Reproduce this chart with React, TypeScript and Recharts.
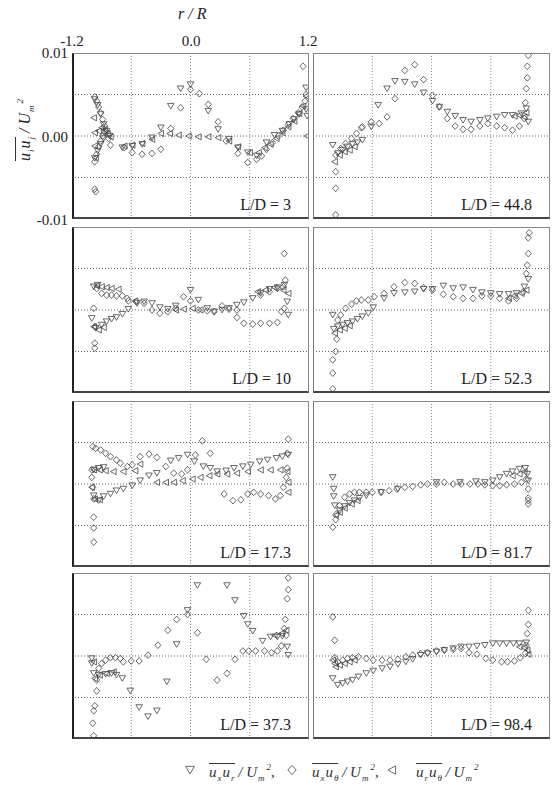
import React from 'react';
import { ScatterChart, Scatter, XAxis, YAxis, ReferenceLine } from 'recharts';

type Pt = [number, number];

// ---- L/D = 3 ----
const ld3Xr: Pt[] = [
  [-0.97, 0.0044], [-0.94, 0.0037], [-0.91, 0.0026], [-0.88, 0.0014], [-0.85, 0.0006], [-0.82, 0.0],
  [-0.97, -0.0027], [-0.94, -0.0018], [-0.91, -0.001], [-0.88, -0.0003],
  [-0.69, -0.0014], [-0.59, -0.0012], [-0.49, -0.001], [-0.39, -0.0002], [-0.3, 0.001], [-0.2, 0.0036],
  [-0.1, 0.0057], [0.0, 0.0062], [0.18, 0.003], [0.28, 0.0008], [0.39, -0.0004], [0.48, -0.0014],
  [0.58, -0.002], [0.67, -0.0024], [0.77, -0.0008], [0.85, 0.0001], [0.93, 0.0006], [1.0, 0.0014],
  [1.05, 0.002], [1.1, 0.0026], [1.17, 0.0032], [1.17, 0.0058], [1.18, 0.0024],
];
const ld3Xt: Pt[] = [
  [-0.97, 0.0047], [-0.95, 0.0042], [-0.93, 0.0035], [-0.91, 0.0028], [-0.89, 0.002], [-0.87, 0.0012],
  [-0.85, 0.0005], [-0.83, -0.0003], [-0.81, -0.0011],
  [-0.97, -0.0031], [-0.95, -0.0022], [-0.93, -0.0013], [-0.91, -0.0006], [-0.89, 0.0], [-0.87, 0.0005],
  [-0.97, -0.0064], [-0.96, -0.0067],
  [-0.67, -0.0014], [-0.59, -0.002], [-0.49, -0.0022], [-0.39, -0.0021], [-0.3, -0.0016], [-0.2, 0.0009],
  [-0.1, 0.0034], [0.0, 0.0056], [0.09, 0.0051], [0.18, 0.0038], [0.28, 0.0017], [0.36, -0.0006],
  [0.48, -0.0021], [0.58, -0.0032], [0.67, -0.0028], [0.72, -0.0024], [0.77, -0.0016], [0.83, -0.0008],
  [0.89, 0.0], [0.94, 0.0007], [0.99, 0.0014], [1.04, 0.0021], [1.09, 0.0028], [1.13, 0.0035],
  [1.16, 0.0042], [1.17, 0.005], [1.14, 0.0084],
];
const ld3Rt: Pt[] = [
  [-0.98, 0.0022], [-0.97, 0.0004], [-0.97, -0.0012], [-0.96, -0.0026], [-0.93, 0.0006], [-0.9, 0.001],
  [-0.87, 0.0008], [-0.84, 0.0003], [-0.81, -0.0001],
  [-0.67, -0.0012], [-0.59, -0.0011], [-0.49, -0.0009], [-0.39, -0.0004], [-0.3, 0.0003], [-0.21, 0.0003],
  [-0.12, 0.0001], [-0.02, 0.0], [0.08, -0.0001], [0.18, -0.0001], [0.28, -0.0002], [0.39, -0.0006],
  [0.48, -0.0013], [0.6, -0.002], [0.69, -0.002], [0.75, -0.0014], [0.81, -0.001], [0.87, -0.0003],
  [0.93, 0.0004], [0.99, 0.0011], [1.05, 0.0018], [1.1, 0.0027], [1.14, 0.0036], [1.17, 0.0048],
  [1.18, 0.0],
];

// ---- L/D = 44.8 ----
const ld44Xr: Pt[] = [
  [-1.0, -0.0011], [-0.95, -0.0021], [-0.9, -0.0017], [-0.85, -0.0013], [-0.8, -0.001], [-0.75, -0.0008],
  [-0.7, -0.0005], [-0.61, 0.0011], [-0.54, 0.0037], [-0.45, 0.0057], [-0.37, 0.0066], [-0.27, 0.0065],
  [-0.17, 0.0062], [-0.08, 0.0052], [0.01, 0.0042], [0.08, 0.0035], [0.16, 0.0029], [0.24, 0.0024],
  [0.32, 0.0019], [0.4, 0.0017], [0.49, 0.0019], [0.57, 0.0021], [0.66, 0.0023], [0.74, 0.0025],
  [0.82, 0.0025], [0.91, 0.0027], [0.96, 0.0033], [0.98, 0.0017],
];
const ld44Xt: Pt[] = [
  [-0.97, -0.0095], [-0.97, -0.0063], [-0.97, -0.0043], [-0.97, -0.0023], [-0.92, -0.0015],
  [-0.87, -0.0009], [-0.81, -0.0003], [-0.76, 0.0003], [-0.71, 0.001], [-0.7, 0.0011], [-0.61, 0.0017],
  [-0.53, 0.0015], [-0.45, 0.0023], [-0.37, 0.0045], [-0.27, 0.0079], [-0.17, 0.0086], [-0.08, 0.0068],
  [0.01, 0.0049], [0.08, 0.0035], [0.16, 0.0021], [0.24, 0.0012], [0.32, 0.0008], [0.4, 0.0008],
  [0.49, 0.0012], [0.57, 0.0015], [0.66, 0.0012], [0.74, 0.001], [0.82, 0.0007], [0.89, 0.0012],
  [0.94, 0.0021], [0.95, 0.004], [0.96, 0.0057], [0.97, 0.007], [0.97, 0.0084], [0.98, 0.0097],
];
const ld44Rt: Pt[] = [
  [-0.98, -0.0031], [-0.93, -0.0023], [-0.88, -0.0019], [-0.83, -0.0017], [-0.78, -0.0013],
  [0.84, 0.0024], [0.89, 0.0025], [0.94, 0.0023], [0.96, 0.0028],
];

// ---- L/D = 10 ----
const ld10Xr: Pt[] = [
  [-0.98, 0.0028], [-0.94, 0.003],
  [-1.0, -0.001], [-0.96, -0.0022], [-0.9, -0.0018], [-0.85, -0.0014], [-0.8, -0.0011], [-0.75, -0.0009],
  [-0.69, -0.0005], [-0.63, 0.0001], [-0.54, 0.0008], [-0.47, 0.001], [-0.39, 0.0008], [-0.31, 0.0003],
  [-0.23, 0.0001], [-0.15, 0.0005], [0.0, 0.0024], [0.08, 0.0012], [0.17, 0.0002], [0.24, -0.0002],
  [0.32, 0.0], [0.39, 0.0002], [0.47, 0.0006], [0.54, 0.0009], [0.63, 0.0014], [0.71, 0.002],
  [0.8, 0.0025], [0.88, 0.0027], [0.95, 0.003], [0.98, 0.001], [0.99, -0.0006],
];
const ld10Xt: Pt[] = [
  [-0.95, 0.0026], [-0.9, 0.002], [-0.85, 0.0018], [-0.8, 0.0018], [-0.75, 0.0017], [-0.69, 0.0017],
  [-0.64, 0.0014], [-0.63, 0.0011], [-0.55, 0.001], [-0.47, 0.0008], [-0.39, 0.0], [-0.31, -0.0004],
  [-0.23, -0.0002], [-0.15, 0.0002], [-0.07, 0.0016], [0.0, 0.0011],
  [-0.98, 0.0002], [-0.97, -0.002], [-0.97, -0.004], [-0.97, -0.0046],
  [0.08, 0.0], [0.17, -0.0001], [0.24, -0.0002], [0.32, 0.0005], [0.39, 0.0001], [0.47, 0.0],
  [0.47, -0.0009], [0.54, -0.0016], [0.63, -0.0017], [0.71, -0.0016], [0.8, -0.0016], [0.88, -0.0015],
  [0.92, -0.0002], [0.95, 0.0002], [0.96, 0.0036], [0.95, 0.0068],
  [0.71, 0.0018], [0.8, 0.0022], [0.88, 0.0026], [0.94, 0.0028],
];
const ld10Rt: Pt[] = [
  [-0.95, 0.0029], [-0.9, 0.0028], [-0.85, 0.0027], [-0.8, 0.0026], [-0.73, 0.0025], [-0.56, 0.0011],
  [-0.15, 0.0], [-0.07, 0.0001], [0.02, 0.0002], [0.1, 0.0], [0.68, 0.0022], [0.76, 0.0024],
  [0.85, 0.0027], [0.94, 0.0024], [0.99, 0.002], [-0.98, -0.002], [-0.93, -0.0024], [-0.88, -0.0021],
];

// ---- L/D = 52.3 ----
const ld52Xr: Pt[] = [
  [-1.0, -0.0006], [-0.99, -0.0023], [-0.95, -0.002], [-0.9, -0.0018], [-0.85, -0.0016], [-0.8, -0.0014],
  [-0.75, -0.0011], [-0.7, -0.0008], [-0.64, -0.0004], [-0.59, 0.0003], [-0.48, 0.0014], [-0.38, 0.002],
  [-0.27, 0.0021], [-0.17, 0.0022], [-0.08, 0.0025], [0.01, 0.0025], [0.12, 0.0029], [0.22, 0.0026],
  [0.32, 0.0027], [0.42, 0.0024], [0.51, 0.0021], [0.6, 0.002], [0.69, 0.0019], [0.78, 0.0019],
  [0.86, 0.002], [0.94, 0.0028], [0.98, 0.0037],
];
const ld52Xt: Pt[] = [
  [-1.0, -0.0095], [-1.0, -0.0076], [-1.0, -0.006], [-0.97, -0.005], [-0.96, -0.0035],
  [-0.95, -0.0012], [-0.92, -0.0006], [-0.87, 0.0002], [-0.81, 0.0007], [-0.76, 0.0011], [-0.71, 0.0012],
  [-0.64, 0.0012], [-0.58, 0.0016], [-0.48, 0.002], [-0.38, 0.0028], [-0.27, 0.0033], [-0.17, 0.0032],
  [-0.08, 0.0027], [0.01, 0.0024], [0.12, 0.0019], [0.22, 0.0016], [0.32, 0.0014], [0.42, 0.0014],
  [0.51, 0.0017], [0.6, 0.0017], [0.69, 0.0014], [0.78, 0.0011], [0.86, 0.0014], [0.93, 0.0022],
  [0.96, 0.0044], [0.97, 0.0054], [0.98, 0.0068], [0.98, 0.0087], [0.99, 0.0093],
];
const ld52Rt: Pt[] = [
  [-0.98, -0.0028], [-0.93, -0.0024], [-0.88, -0.0022], [-0.83, -0.0019],
  [0.78, 0.0014], [0.84, 0.0017], [0.91, 0.002], [0.96, 0.0024],
];

// ---- L/D = 17.3 ----
const ld17Xr: Pt[] = [
  [-0.98, 0.0017], [-0.93, 0.0019], [-0.88, 0.002],
  [-0.98, -0.0014], [-0.93, -0.002], [-0.88, -0.0015], [-0.81, -0.0012], [-0.75, -0.0008], [-0.68, -0.0006],
  [-0.59, -0.0002], [-0.51, 0.0004], [-0.42, 0.001], [-0.34, 0.0013], [-0.2, 0.0028], [-0.12, 0.0031],
  [-0.03, 0.0035], [0.04, 0.0027], [0.13, 0.0021], [0.2, 0.0019], [0.27, 0.0015], [0.36, 0.0016],
  [0.44, 0.0019], [0.53, 0.0021], [0.61, 0.0023], [0.7, 0.0027], [0.78, 0.0029], [0.87, 0.0031],
  [0.93, 0.0033], [0.99, 0.0035],
];
const ld17Xt: Pt[] = [
  [-0.99, 0.0045], [-0.96, 0.0043], [-0.91, 0.0041], [-0.86, 0.0037], [-0.81, 0.0033], [-0.75, 0.0029],
  [-0.71, 0.0025], [-0.64, 0.0021], [-0.59, 0.0023], [-0.51, 0.0033], [-0.42, 0.0036], [-0.34, 0.0032],
  [-0.25, 0.0021], [-0.17, 0.0013], [-0.09, 0.0012], [-0.03, 0.0017], [0.05, 0.0035], [0.12, 0.0052],
  [0.2, 0.0037],
  [-1.0, 0.0017], [-1.0, 0.0008], [-0.99, -0.0004], [-0.98, -0.0018], [-0.98, -0.004], [-0.98, -0.0053],
  [-0.98, -0.007],
  [0.34, -0.0012], [0.43, -0.002], [0.51, -0.0019], [0.58, -0.0012], [0.64, -0.001], [0.71, -0.0012],
  [0.79, -0.0014], [0.86, -0.0018], [0.91, -0.0014], [0.94, -0.0004], [0.97, 0.0008], [0.98, 0.0019],
  [0.98, 0.0037], [0.99, 0.0054],
];
const ld17Rt: Pt[] = [
  [-0.98, 0.0017], [-0.92, 0.0017], [-0.86, 0.0016], [-0.78, 0.0015], [-0.68, 0.0015], [-0.56, 0.0016],
  [-0.51, 0.0024], [-0.34, 0.0002], [-0.25, 0.0002], [-0.17, 0.0002], [-0.08, 0.0004], [0.02, 0.0006],
  [0.1, 0.0008], [0.19, 0.001], [0.27, 0.0012], [0.37, 0.0012], [0.47, 0.0013], [0.58, 0.0015],
  [0.71, 0.0017], [0.81, 0.0017], [0.91, 0.0017], [0.98, 0.0015], [0.99, 0.0002], [0.99, -0.001],
  [-1.0, -0.0004], [-0.97, -0.0018], [-0.92, -0.0019],
];

// ---- L/D = 81.7 ----
const ld81Xr: Pt[] = [
  [-1.0, 0.0008], [-0.99, -0.0006], [-0.99, -0.0015], [-0.98, -0.0026], [-0.93, -0.0032], [-0.88, -0.0027],
  [-0.83, -0.0023], [-0.78, -0.002], [-0.73, -0.0017], [-0.66, -0.0014], [-0.51, -0.001], [-0.34, -0.0006],
  [0.05, 0.0002], [0.29, 0.0002], [0.45, 0.0003], [0.54, 0.0002], [0.62, 0.0004], [0.69, 0.0008],
  [0.76, 0.0012], [0.82, 0.0015], [0.89, 0.0018], [0.95, 0.0019], [0.97, 0.0012], [0.98, 0.0004],
];
const ld81Xt: Pt[] = [
  [-1.0, -0.0052], [-0.97, -0.0043], [-0.96, -0.0036], [-0.93, -0.0026], [-0.88, -0.0016], [-0.83, -0.0012],
  [-0.78, -0.001], [-0.73, -0.001], [-0.66, -0.001], [-0.6, -0.001], [-0.51, -0.001], [-0.43, -0.0008],
  [-0.35, -0.0006], [-0.27, -0.0004], [-0.19, -0.0003], [-0.11, -0.0001], [-0.04, 0.0], [0.05, 0.0],
  [0.13, 0.0002], [0.22, 0.0], [0.3, 0.0], [0.39, 0.0], [0.47, 0.0], [0.54, -0.0001], [0.62, -0.0002],
  [0.69, -0.0002], [0.76, -0.0001], [0.84, 0.0], [0.91, 0.0002], [0.96, 0.0006], [0.98, -0.0006],
  [0.98, -0.0017], [0.98, -0.002], [0.98, -0.0024],
];
const ld81Rt: Pt[] = [
  [-0.97, -0.0038], [-0.93, -0.0034], [-0.88, -0.0029], [-0.81, -0.0024], [-0.75, -0.002],
  [0.82, 0.001], [0.89, 0.0012], [0.94, 0.0015],
];

// ---- L/D = 37.3 ----
const ld37Xr: Pt[] = [
  [-1.0, -0.0003], [-1.0, -0.0009], [-0.98, -0.0021], [-0.93, -0.0023], [-0.86, -0.0022], [-0.8, -0.0021],
  [-0.75, -0.0023], [-0.69, -0.0027], [-0.61, -0.0042], [-0.52, -0.0062], [-0.43, -0.0073],
  [-0.34, -0.0066], [-0.24, -0.0031], [-0.14, 0.0014], [-0.03, 0.0055], [0.07, 0.0085], [0.37, 0.0085],
  [0.45, 0.0067], [0.54, 0.0048], [0.58, 0.0038], [0.63, 0.003], [0.73, 0.0018], [0.81, 0.0023],
  [0.88, 0.0023], [0.93, 0.0024], [0.98, 0.0011], [0.99, 0.0001],
];
const ld37Xt: Pt[] = [
  [-0.98, -0.0096], [-0.99, -0.0081], [-0.98, -0.0066], [-0.97, -0.006], [-0.95, -0.0042],
  [-0.95, -0.0029], [-0.93, -0.0015], [-0.9, -0.0009], [-0.86, -0.0005], [-0.81, -0.0002],
  [-0.76, -0.0002], [-0.71, -0.0003], [-0.68, -0.0007], [-0.6, -0.0006], [-0.52, -0.0006],
  [-0.43, 0.0001], [-0.33, 0.0013], [-0.23, 0.0031], [-0.14, 0.0044], [-0.03, 0.005], [0.07, 0.0028],
  [0.16, -0.0004], [0.27, -0.0029], [0.37, -0.0021], [0.45, -0.0004], [0.53, 0.0006], [0.59, 0.0006],
  [0.66, 0.0006], [0.75, 0.0006], [0.82, 0.0004], [0.88, 0.0006], [0.92, 0.0012], [0.97, 0.0025],
  [0.95, 0.0033], [0.96, 0.0044], [0.98, 0.0069], [0.99, 0.008], [0.99, 0.0094],
];
const ld37Rt: Pt[] = [
  [-0.98, -0.0007], [-0.97, -0.0027], [-0.92, -0.0023], [-0.85, -0.0021], [-0.78, -0.0019],
  [0.85, 0.0025], [0.92, 0.0027], [0.97, 0.0031],
];

// ---- L/D = 98.4 ----
const ld98Xr: Pt[] = [
  [-1.0, -0.0027], [-0.95, -0.0035], [-0.9, -0.0033], [-0.85, -0.0031], [-0.8, -0.0029], [-0.74, -0.0025],
  [-0.66, -0.0021], [-0.59, -0.0018], [-0.5, -0.0015], [-0.42, -0.0013], [-0.34, -0.001], [-0.26, -0.0007],
  [-0.19, -0.0004], [-0.11, 0.0001], [-0.04, 0.0003], [0.05, 0.0005], [0.13, 0.0007], [0.22, 0.0009],
  [0.3, 0.0011], [0.38, 0.0011], [0.46, 0.0012], [0.54, 0.0013], [0.62, 0.0015], [0.69, 0.0015],
  [0.76, 0.0015], [0.83, 0.0015], [0.89, 0.0015], [0.96, 0.0016],
];
const ld98Xt: Pt[] = [
  [-1.0, 0.0047], [-0.98, 0.0019], [-0.98, -0.0002], [-0.95, -0.0007], [-0.9, -0.0005], [-0.85, -0.0003],
  [-0.8, -0.0002], [-0.74, -0.0001], [-0.66, -0.0003], [-0.59, -0.0005], [-0.5, -0.0005], [-0.42, -0.0005],
  [-0.34, -0.0004], [-0.26, -0.0001], [-0.19, 0.0001], [-0.11, 0.0003], [-0.04, 0.0004], [0.05, 0.0006],
  [0.13, 0.0007], [0.22, 0.0008], [0.3, 0.0009], [0.38, 0.0004], [0.46, 0.0002], [0.55, -0.0003],
  [0.62, -0.0005], [0.71, -0.0007], [0.77, -0.0007], [0.84, -0.0006], [0.9, -0.0002], [0.95, 0.0003],
  [0.96, 0.0013], [0.97, 0.0027], [0.98, 0.0038], [0.98, 0.0055],
];
const ld98Rt: Pt[] = [
  [-1.0, -0.0005], [-0.98, -0.0009], [-0.97, -0.0013], [-0.93, -0.0011], [-0.88, -0.0009], [-0.83, -0.0007],
  [-0.78, -0.0005], [0.89, 0.0011], [0.94, 0.001], [0.97, 0.0007], [0.98, 0.0002],
];

const stations = ['3', '44.8', '10', '52.3', '17.3', '81.7', '37.3', '98.4'];
const seriesXr = [ld3Xr, ld44Xr, ld10Xr, ld52Xr, ld17Xr, ld81Xr, ld37Xr, ld98Xr];
const seriesXt = [ld3Xt, ld44Xt, ld10Xt, ld52Xt, ld17Xt, ld81Xt, ld37Xt, ld98Xt];
const seriesRt = [ld3Rt, ld44Rt, ld10Rt, ld52Rt, ld17Rt, ld81Rt, ld37Rt, ld98Rt];

const xTicks = ['-1.2', '0.0', '1.2'];
const yTicks = ['0.01', '0.00', '-0.01'];
const xGrid = [-0.6, 0, 0.6];
const yGrid = [-0.005, 0, 0.005];

const SERIF = '"Liberation Serif", "DejaVu Serif", serif';
const INK = '#444';
const COL_LEFT = [72, 313];
const ROW_TOP = [53, 227, 401, 573];
const W = 237;
const H = 166;

const toPts = (arr: Pt[]) => arr.map(([x, y]) => ({ x, y }));

const TriDown = ({ cx, cy, s = 1 }: any) => (
  <polygon points={`${cx - 3.3 * s},${cy - 2.7 * s} ${cx + 3.3 * s},${cy - 2.7 * s} ${cx},${cy + 2.9 * s}`} fill="none" stroke={INK} strokeWidth={0.8} />
);
const Diamond = ({ cx, cy, s = 1 }: any) => (
  <polygon points={`${cx},${cy - 3.4 * s} ${cx + 3.1 * s},${cy} ${cx},${cy + 3.4 * s} ${cx - 3.1 * s},${cy}`} fill="none" stroke={INK} strokeWidth={0.8} />
);
const TriLeft = ({ cx, cy, s = 1 }: any) => (
  <polygon points={`${cx - 3 * s},${cy} ${cx + 2.7 * s},${cy - 3.1 * s} ${cx + 2.7 * s},${cy + 3.1 * s}`} fill="none" stroke={INK} strokeWidth={0.8} />
);

function Panel({ idx }: { idx: number }) {
  const col = idx % 2;
  const row = Math.floor(idx / 2);
  return (
    <div style={{ position: 'absolute', left: COL_LEFT[col], top: ROW_TOP[row], width: W, height: H }}>
      <ScatterChart width={W} height={H} margin={{ top: 0, right: 0, bottom: 0, left: 0 }}>
        <XAxis type="number" dataKey="x" domain={[-1.2, 1.2]} hide />
        <YAxis type="number" dataKey="y" domain={[-0.01, 0.01]} hide />
        {xGrid.map(v => (
          <ReferenceLine key={'gx' + v} x={v} stroke="#888" strokeDasharray="1 2" />
        ))}
        {yGrid.map(v => (
          <ReferenceLine key={'gy' + v} y={v} stroke="#666" strokeDasharray="1 2" />
        ))}
        <Scatter data={toPts(seriesRt[idx])} shape={(p: any) => <TriLeft cx={p.cx} cy={p.cy} />} isAnimationActive={false} />
        <Scatter data={toPts(seriesXr[idx])} shape={(p: any) => <TriDown cx={p.cx} cy={p.cy} />} isAnimationActive={false} />
        <Scatter data={toPts(seriesXt[idx])} shape={(p: any) => <Diamond cx={p.cx} cy={p.cy} />} isAnimationActive={false} />
      </ScatterChart>
      {/* panel frame: darker on the left/bottom edges */}
      <div
        style={{
          position: 'absolute',
          inset: 0,
          boxSizing: 'border-box',
          borderTop: '1px solid #888',
          borderRight: '1px solid #888',
          borderLeft: col === 0 ? '2px solid #222' : '1px solid #777',
          borderBottom: '2px solid #444',
          pointerEvents: 'none',
        }}
      />
      <div
        style={{
          position: 'absolute',
          right: 18,
          bottom: 6,
          fontFamily: SERIF,
          fontSize: 16,
          lineHeight: '16px',
          color: '#222',
          whiteSpace: 'nowrap',
        }}
      >
        L/D = {stations[idx]}
      </div>
    </div>
  );
}

const txt: React.CSSProperties = { position: 'absolute', fontFamily: SERIF, fontSize: 15, color: '#222', whiteSpace: 'nowrap', lineHeight: '15px' };
const tick: React.CSSProperties = { ...txt, lineHeight: '12px' };
const sub: React.CSSProperties = { fontSize: 9, position: 'relative', top: 4, marginLeft: 1 };
const sup: React.CSSProperties = { fontSize: 9, position: 'relative', top: -7, marginLeft: 2 };
const bar: React.CSSProperties = { display: 'inline-block', borderTop: '1px solid #333', paddingTop: 1, lineHeight: '15px' };

// overlined velocity product over U_m squared
const Term = ({ a, b }: { a: string; b: string }) => (
  <span style={{ fontStyle: 'italic' }}>
    <span style={bar}>
      u<span style={sub}>{a}</span>
      <span style={{ marginLeft: 1 }}>u</span>
      <span style={sub}>{b}</span>
    </span>
    {' / '}U<span style={sub}>m</span>
    <span style={sup}>2</span>
  </span>
);

const Marker = ({ kind }: { kind: 'd' | 'x' | 'l' }) => (
  <svg width={14} height={14} style={{ position: 'absolute', left: -7, top: -7 }}>
    {kind === 'd' && <TriDown cx={7} cy={7} s={1.35} />}
    {kind === 'x' && <Diamond cx={7} cy={7} s={1.35} />}
    {kind === 'l' && <TriLeft cx={7} cy={7} s={1.35} />}
  </svg>
);

const legendItems: { kind: 'd' | 'x' | 'l'; a: string; b: string; mx: number; tx: number; comma: boolean }[] = [
  { kind: 'd', a: 'x', b: 'r', mx: 190, tx: 209, comma: true },
  { kind: 'x', a: 'x', b: 'θ', mx: 292, tx: 312, comma: true },
  { kind: 'l', a: 'r', b: 'θ', mx: 392, tx: 416, comma: false },
];

export default function App() {
  return (
    <div style={{ position: 'absolute', left: 0, top: 0, width: 552, height: 789, background: '#fff' }}>
      <div style={{ ...txt, left: 178, top: 6, fontSize: 16, fontStyle: 'italic' }}>r / R</div>
      {xTicks.map((t, i) => (
        <div key={t} style={{ ...tick, left: [72, 191, 308][i], top: 35, transform: 'translateX(-50%)' }}>{t}</div>
      ))}
      {yTicks.map((t, i) => (
        <div key={t} style={{ ...tick, right: 552 - 68, top: [53, 137, 220][i] - 6, textAlign: 'right' }}>{t}</div>
      ))}
      <div
        style={{
          ...txt,
          left: 25,
          top: 130,
          fontSize: 16,
          transform: 'translate(-50%, -50%) rotate(-90deg)',
        }}
      >
        <Term a="i" b="j" />
      </div>

      {stations.map((_, i) => (
        <Panel key={i} idx={i} />
      ))}

      {legendItems.map(it => (
        <React.Fragment key={it.mx}>
          <div style={{ position: 'absolute', left: it.mx, top: 770 }}>
            <Marker kind={it.kind} />
          </div>
          <div style={{ ...txt, left: it.tx, top: 763, fontSize: 15, color: '#333' }}>
            <Term a={it.a} b={it.b} />
            {it.comma ? ',' : ''}
          </div>
        </React.Fragment>
      ))}
    </div>
  );
}
